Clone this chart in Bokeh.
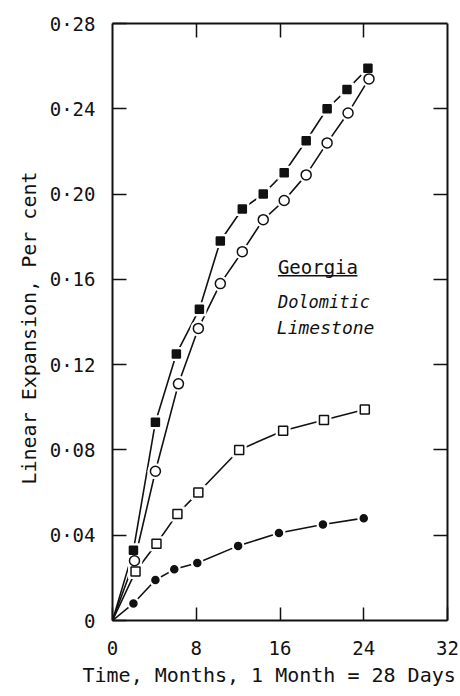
from bokeh.plotting import figure
from bokeh.models import Range1d, LinearAxis, FixedTicker, Label, Title
from bokeh.embed import file_html
from bokeh.resources import INLINE

# ---- data (months, linear expansion %) ----
t_fsq = [2.0, 4.1, 6.1, 8.3, 10.3, 12.4, 14.4, 16.4, 18.5, 20.5, 22.4, 24.4]
v_fsq = [0.033, 0.093, 0.125, 0.146, 0.178, 0.193, 0.200, 0.210, 0.225, 0.240, 0.249, 0.259]
t_oc = [2.1, 4.1, 6.3, 8.2, 10.3, 12.4, 14.4, 16.4, 18.5, 20.5, 22.5, 24.5]
v_oc = [0.028, 0.070, 0.111, 0.137, 0.158, 0.173, 0.188, 0.197, 0.209, 0.224, 0.238, 0.254]
t_osq = [2.2, 4.2, 6.2, 8.2, 12.1, 16.3, 20.2, 24.1]
v_osq = [0.023, 0.036, 0.050, 0.060, 0.080, 0.089, 0.094, 0.099]
t_fc = [2.0, 4.1, 5.9, 8.1, 12.0, 15.9, 20.1, 24.0]
v_fc = [0.008, 0.019, 0.024, 0.027, 0.035, 0.041, 0.045, 0.048]

x_ticks = [0, 8, 16, 24, 32]
x_tick_labels = ["0", "8", "16", "24", "32"]
y_ticks = [0, 0.04, 0.08, 0.12, 0.16, 0.20, 0.24, 0.28]
y_tick_labels = ["0", "0·04", "0·08", "0·12", "0·16", "0·20", "0·24", "0·28"]

x_title = "Time, Months,  1 Month = 28 Days"
y_title = "Linear Expansion,  Per cent"
annot_lines = ["Georgia", "Dolomitic", "Limestone"]

FONT = "DejaVu Sans Mono"
INK = "#111111"

p = figure(width=460, height=696, output_backend="svg", toolbar_location=None,
           x_range=Range1d(0, 32), y_range=Range1d(0, 0.28),
           min_border_left=112, min_border_right=13, min_border_top=23, min_border_bottom=76)
p.grid.visible = False
p.outline_line_color = None
p.background_fill_color = "white"
p.border_fill_color = "white"

def style_axis(ax, ticks, labels=None, length=14):
    ax.ticker = FixedTicker(ticks=ticks)
    ax.major_tick_in = length
    ax.major_tick_out = 0
    ax.minor_tick_in = 0
    ax.minor_tick_out = 0
    ax.axis_line_color = INK
    ax.axis_line_width = 2
    ax.major_tick_line_color = INK
    ax.major_tick_line_width = 1.5
    if labels is not None:
        ax.major_label_overrides = {t: l for t, l in zip(ticks, labels)}
        ax.major_label_text_font = FONT
        ax.major_label_text_font_size = "19px"
        ax.major_label_text_color = INK
    else:
        ax.major_label_text_font_size = "1px"
        ax.major_label_text_alpha = 0
        ax.major_label_standoff = 0

xa = p.xaxis[0]
style_axis(xa, x_ticks, x_tick_labels, 13)
xa.major_label_standoff = 20
ya = p.yaxis[0]
style_axis(ya, y_ticks, y_tick_labels, 14)
ya.major_label_standoff = 17
ya.axis_label = y_title
ya.axis_label_text_font = FONT
ya.axis_label_text_font_style = "normal"
ya.axis_label_text_font_size = "20px"
ya.axis_label_text_color = INK
ya.axis_label_standoff = 6

top = LinearAxis()
style_axis(top, [8, 16, 24], None, 14)
p.add_layout(top, "above")
right = LinearAxis()
style_axis(right, [0.04, 0.08, 0.12, 0.16, 0.20, 0.24], None, 14)
p.add_layout(right, "right")

# x title, shifted left as in the original
p.add_layout(Title(text=x_title, align="left", offset=-30, standoff=6,
                   text_font=FONT, text_font_size="20px", text_font_style="normal",
                   text_color=INK), "below")

# curves from origin through the points
series = [
    (t_fsq, v_fsq, "square", 8, INK),
    (t_oc, v_oc, "circle", 10, "white"),
    (t_osq, v_osq, "square", 9, "white"),
    (t_fc, v_fc, "circle", 7, INK),
]
for t, v, m, s, fill in series:
    p.line([0] + t, [0] + v, line_color=INK, line_width=1.6)
for t, v, m, s, fill in series:
    p.scatter(t, v, marker=m, size=s + 6, fill_color="white", line_color=None)
for t, v, m, s, fill in series:
    p.scatter(t, v, marker=m, size=s, fill_color=fill, line_color=INK, line_width=1.5)

# annotation
AX, AY = 15.8, 0.166
p.add_layout(Label(x=AX, y=AY, text=annot_lines[0], text_font=FONT, text_font_size="19px",
                   text_color=INK, text_baseline="alphabetic"))
p.segment(x0=[AX], y0=[AY - 0.0043], x1=[AX + 7.6], y1=[AY - 0.0043], line_color=INK, line_width=1.3)
p.add_layout(Label(x=AX, y=AY - 0.0164, text=annot_lines[1], text_font=FONT, text_font_size="17px",
                   text_font_style="italic", text_color=INK, text_baseline="alphabetic"))
p.add_layout(Label(x=AX - 0.1, y=AY - 0.0286, text=annot_lines[2], text_font=FONT, text_font_size="18px",
                   text_font_style="italic", text_color=INK, text_baseline="alphabetic"))

open("out.html", "w").write(file_html(p, INLINE))
